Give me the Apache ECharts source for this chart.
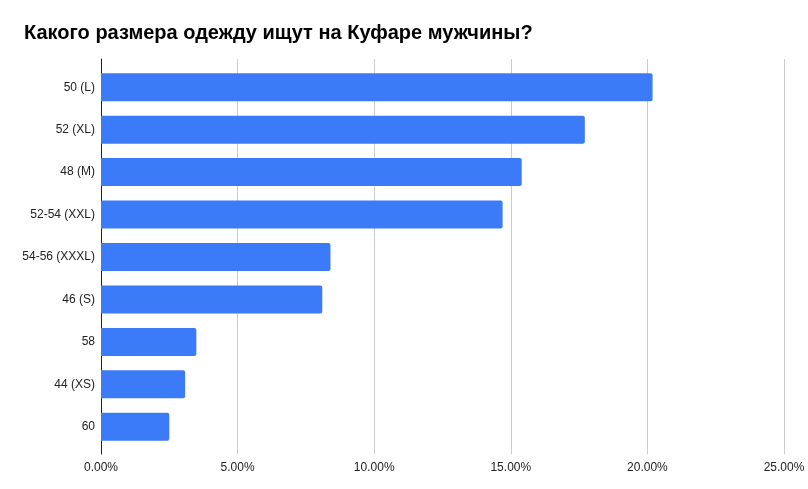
<!DOCTYPE html>
<html><head><meta charset="utf-8">
<script src="https://cdn.jsdelivr.net/npm/echarts@6/dist/echarts.min.js"></script>
<style>html,body{margin:0;padding:0;background:#fff}#c{width:808px;height:489px}</style>
</head><body><div id="c"></div>
<script>
const titleText = 'Какого размера одежду ищут на Куфаре мужчины?';
const categories = ['50 (L)', '52 (XL)', '48 (M)', '52-54 (XXL)', '54-56 (XXXL)', '46 (S)', '58', '44 (XS)', '60'];
const shares = [20.19, 17.71, 15.40, 14.70, 8.40, 8.10, 3.49, 3.08, 2.50];
const xTicks = [0, 5, 10, 15, 20, 25];

const font = 'Liberation Sans, Arial, sans-serif';
const chart = echarts.init(document.getElementById('c'), null, {renderer: 'canvas'});
chart.setOption({
  animation: false,
  title: {text: titleText, left: 19, top: 18, textStyle: {fontFamily: font, fontSize: 20, fontWeight: 'bold', color: '#000'}},
  grid: [
    {left: 101, right: 24, top: 59, bottom: 35},
    {left: 101, right: 24, top: 66, bottom: 41}
  ],
  xAxis: [
    {type: 'value', gridIndex: 0, min: xTicks[0], max: xTicks[xTicks.length-1], interval: 5,
     axisLine: {show: false}, axisTick: {show: false},
     splitLine: {show: true, lineStyle: {color: '#cccccc', width: 1}},
     axisLabel: {formatter: v => v.toFixed(2) + '%', fontFamily: font, fontSize: 12, color: '#222', margin: 8}},
    {type: 'value', gridIndex: 1, min: xTicks[0], max: xTicks[xTicks.length-1], interval: 5,
     show: false}
  ],
  yAxis: [
    {type: 'value', gridIndex: 0, min: 0, max: 1, show: true,
     axisLine: {show: true, lineStyle: {color: '#222', width: 1}}, axisTick: {show: false},
     axisLabel: {show: false}, splitLine: {show: false}},
    {type: 'category', gridIndex: 1, data: categories, inverse: true,
     axisLine: {show: false}, axisTick: {show: false},
     axisLabel: {fontFamily: font, fontSize: 12, color: '#222', margin: 6}}
  ],
  series: [{
    type: 'bar', xAxisIndex: 1, yAxisIndex: 1, data: shares,
    barCategoryGap: '34%',
    itemStyle: {color: '#3c7bf8', borderRadius: [0, 2, 2, 0]}
  }]
});
</script></body></html>
